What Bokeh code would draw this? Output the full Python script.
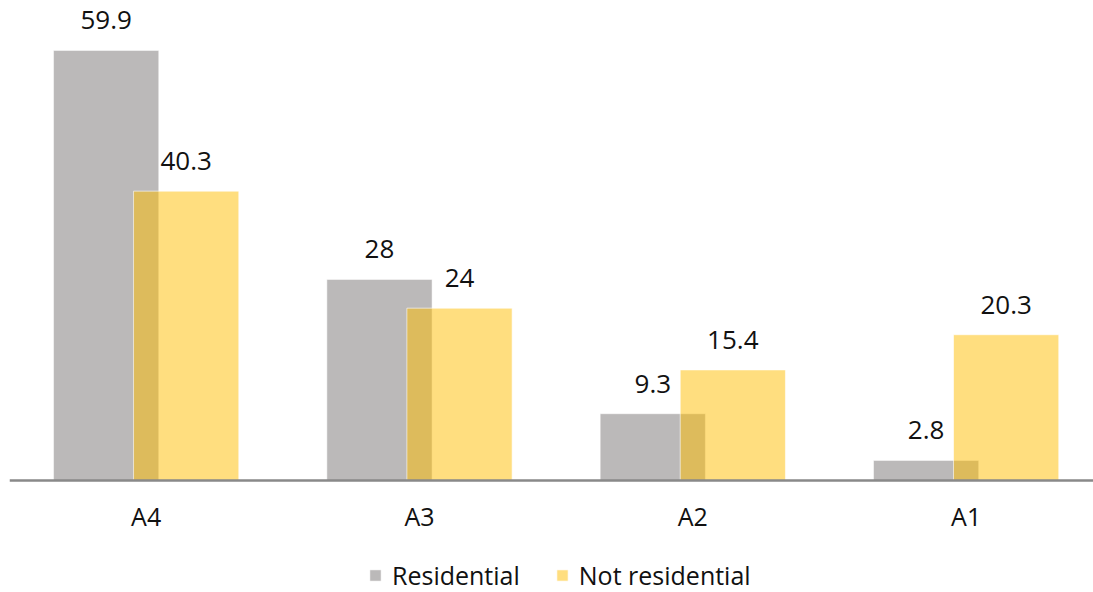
from bokeh.plotting import figure
from bokeh.models import ColumnDataSource, Legend, LegendItem, FixedTicker, Range1d
from bokeh.core.properties import value
from bokeh.embed import file_html
from bokeh.resources import INLINE

# Data
categories = ["A4", "A3", "A2", "A1"]
residential = [59.9, 28, 9.3, 2.8]
not_residential = [40.3, 24, 15.4, 20.3]

# Layout helpers
positions = list(range(len(categories)))
offset = 0.1464
bar_width = 0.385
font = "Open Sans"

res_src = ColumnDataSource(dict(
    x=[i - offset for i in positions],
    top=residential,
    label=[f"{v:g}" for v in residential],
))
nres_src = ColumnDataSource(dict(
    x=[i + offset for i in positions],
    top=not_residential,
    label=[f"{v:g}" for v in not_residential],
))

p = figure(
    width=1093, height=592,
    output_backend="svg", toolbar_location=None,
    x_range=Range1d(-0.5, 3.466), y_range=Range1d(-15.6, 66.85),
    min_border_left=9, min_border_right=0, min_border_top=0, min_border_bottom=0,
)
p.outline_line_color = None
p.grid.visible = False
p.yaxis.visible = False

r_res = p.vbar(x="x", top="top", bottom=0, width=bar_width, source=res_src,
               fill_color="#BBB9B9", line_color="white", line_alpha=0.5, line_width=1)
r_nres = p.vbar(x="x", top="top", bottom=0, width=bar_width, source=nres_src,
                fill_color="#FFBD00", fill_alpha=0.5,
                line_color="white", line_alpha=0.6, line_width=1)

for src in (res_src, nres_src):
    p.text(x="x", y="top", text="label", source=src,
           text_align="center", text_baseline="alphabetic", y_offset=-30,
           text_font=value(font), text_font_size="26px", text_color="#111111")

xa = p.xaxis[0]
xa.fixed_location = 0
xa.ticker = FixedTicker(ticks=positions)
xa.major_label_overrides = {i: c for i, c in zip(positions, categories)}
xa.major_tick_line_color = None
xa.minor_tick_line_color = None
xa.axis_line_color = "#898989"
xa.axis_line_width = 2.5
xa.major_label_standoff = 13
xa.major_label_text_font = font
xa.major_label_text_font_size = "25px"
xa.major_label_text_color = "#111111"

legend = Legend(
    items=[LegendItem(label="Residential", renderers=[r_res]),
           LegendItem(label="Not residential", renderers=[r_nres])],
    orientation="horizontal", location=(359, 0),
    glyph_width=14, glyph_height=14, label_standoff=10, spacing=35,
    padding=0, margin=0,
    label_text_font=font, label_text_font_size="25px", label_text_color="#111111",
    border_line_alpha=0, background_fill_alpha=0,
)
p.add_layout(legend, "center")

open("out.html", "w").write(file_html(p, INLINE))
